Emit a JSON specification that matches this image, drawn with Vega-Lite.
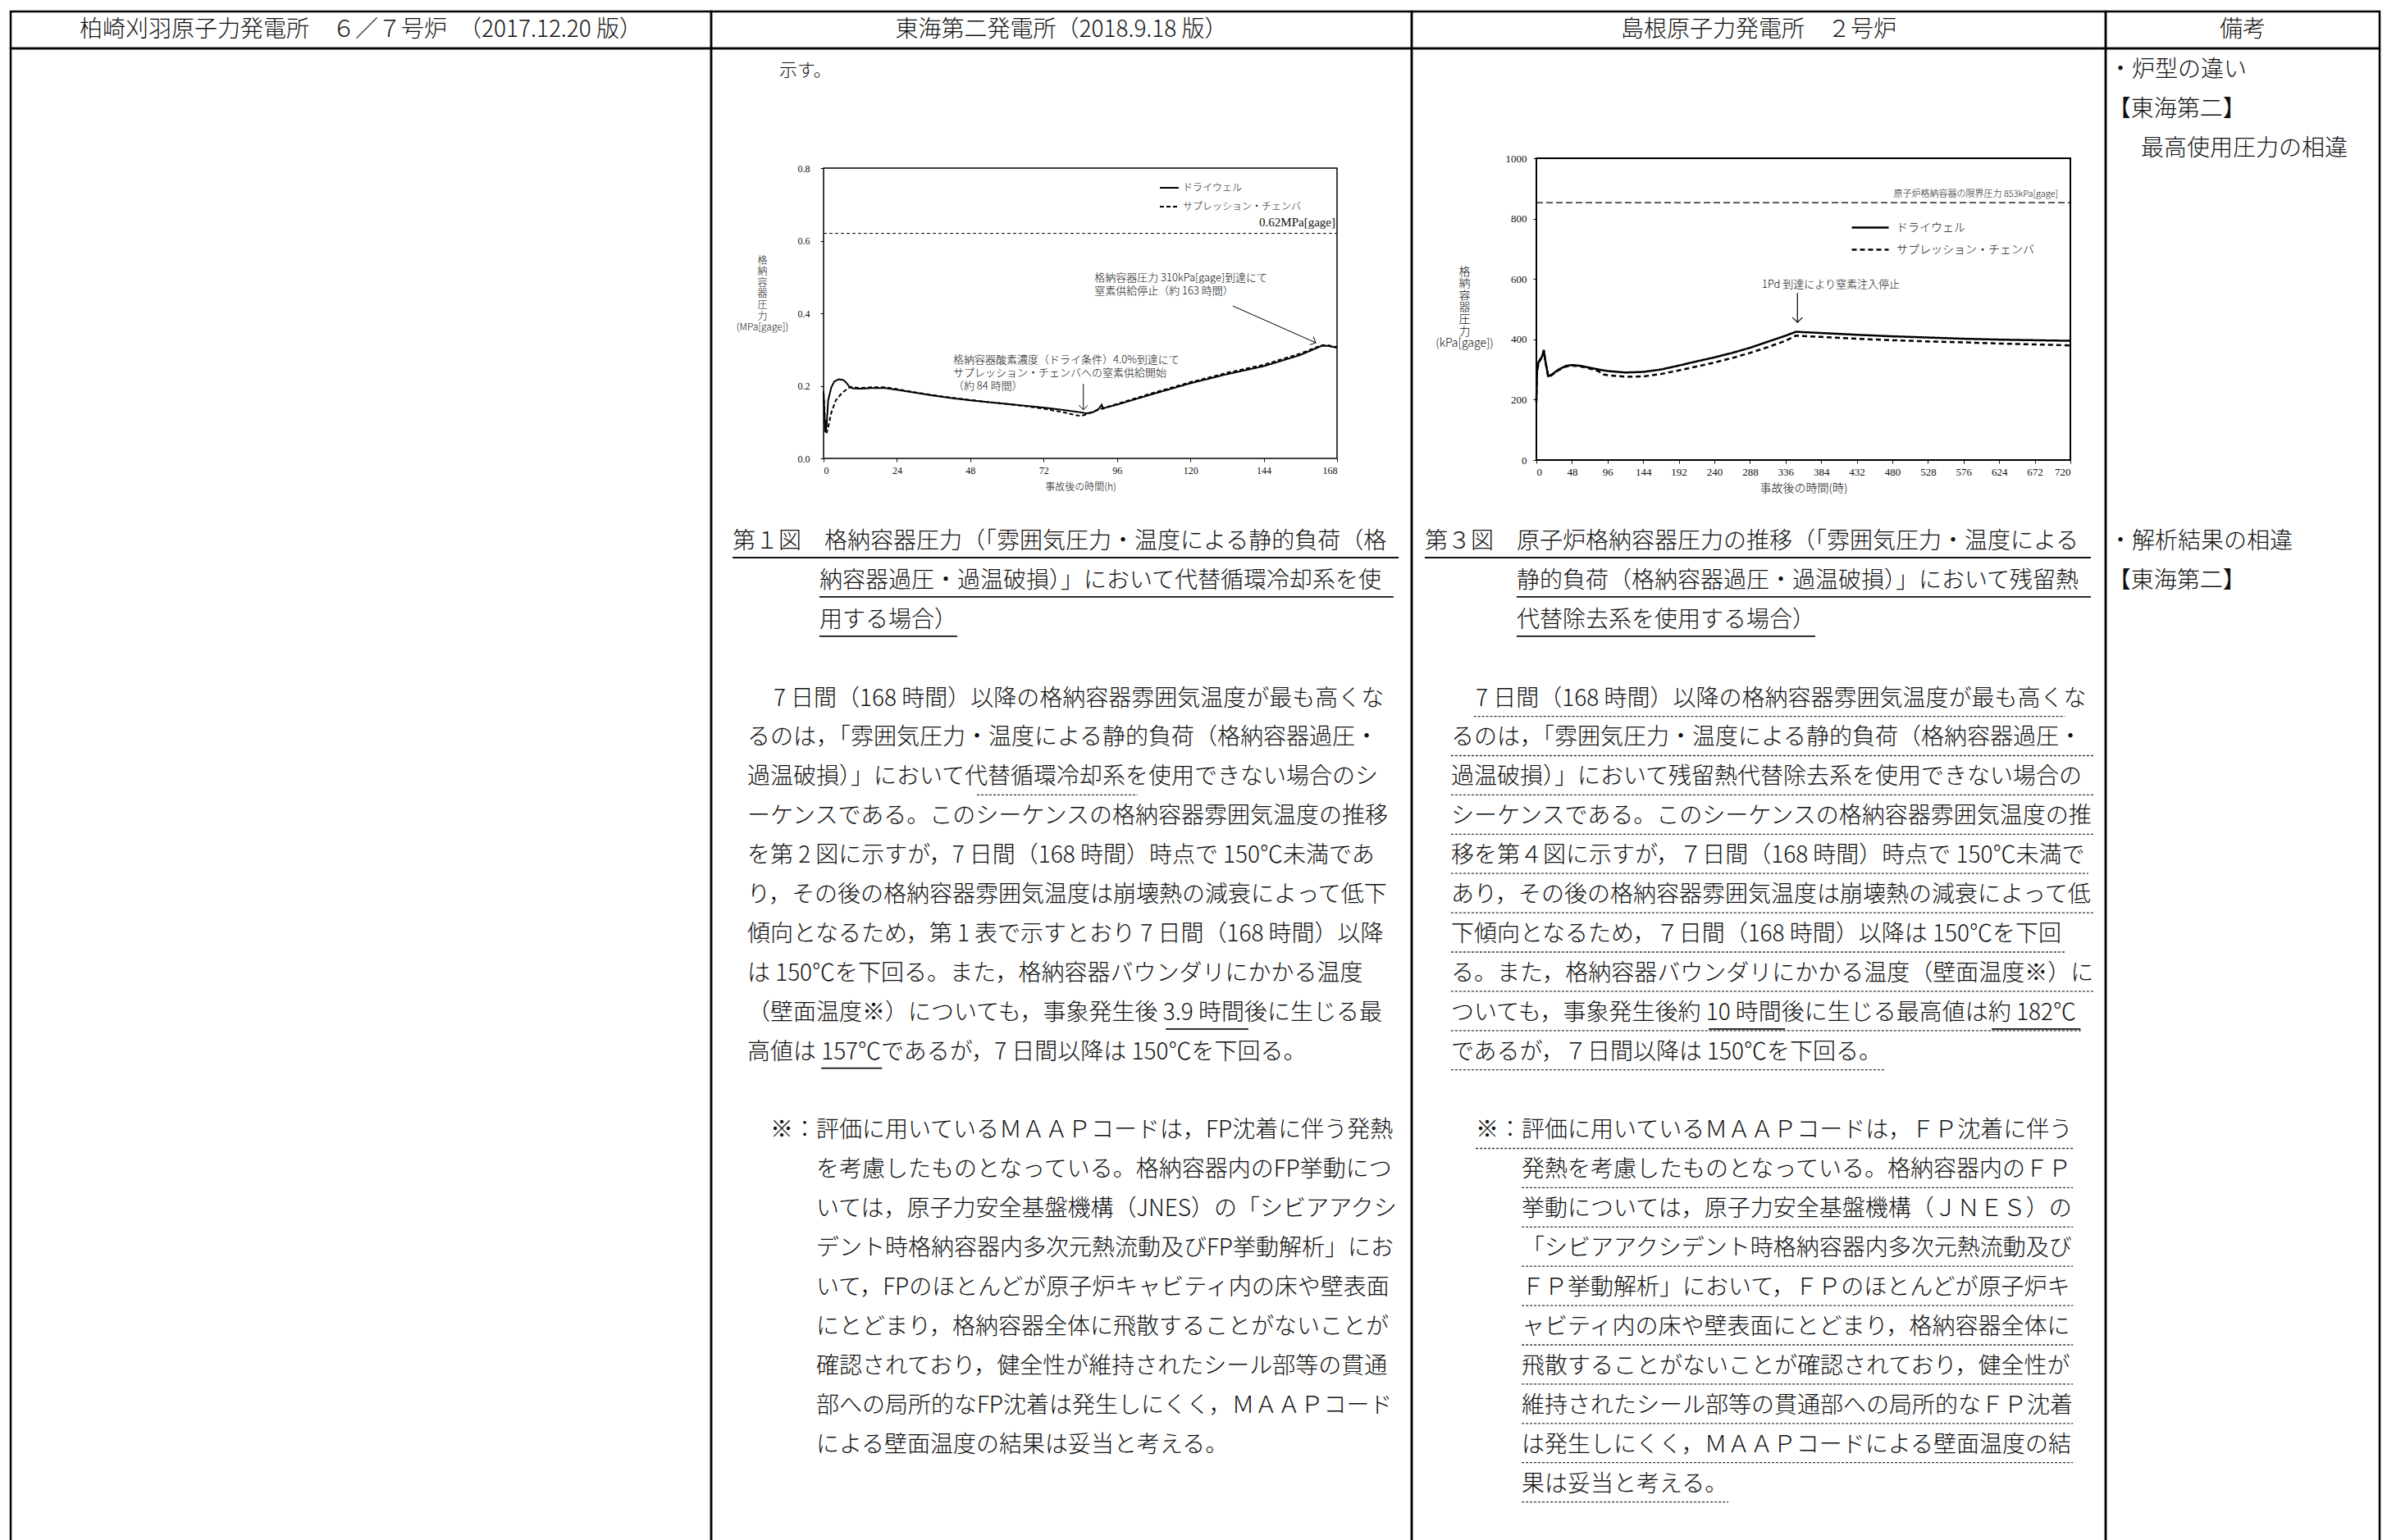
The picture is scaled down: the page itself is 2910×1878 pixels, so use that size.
{
  "$schema": "https://vega.github.io/schema/vega-lite/v6.json",
  "background": "white",
  "padding": {"left": 11, "top": 12, "right": 0, "bottom": 0},
  "config": {
    "font": "Noto Sans CJK JP",
    "view": {"stroke": null},
    "concat": {"spacing": 0},
    "axis": {"grid": false, "domain": false, "labelColor": "#111", "titleColor": "#111", "tickColor": "#111", "titleFontWeight": 300},
    "legend": {"labelColor": "#111", "labelFontWeight": 300},
    "text": {"color": "#111", "fontWeight": 300}
  },
  "columns": 4,
  "spacing": 0,
  "bounds": "flush",
  "resolve": {"scale": {"strokeDash": "independent"}, "legend": {"strokeDash": "independent"}},
  "concat": [
    {"width": 854, "height": 45, "view": {"stroke": "#000", "strokeWidth": 2.5}, "data": {"values": [{"h": "柏崎刈羽原子力発電所　６／７号炉　（2017.12.20 版）"}]}, "mark": {"type": "text", "fontSize": 28, "baseline": "middle"}, "encoding": {"text": {"field": "h"}}},
    {"width": 854, "height": 45, "view": {"stroke": "#000", "strokeWidth": 2.5}, "data": {"values": [{"h": "東海第二発電所（2018.9.18 版）"}]}, "mark": {"type": "text", "fontSize": 28, "baseline": "middle"}, "encoding": {"text": {"field": "h"}}},
    {"width": 846, "height": 45, "view": {"stroke": "#000", "strokeWidth": 2.5}, "data": {"values": [{"h": "島根原子力発電所　２号炉"}]}, "mark": {"type": "text", "fontSize": 28, "baseline": "middle"}, "encoding": {"text": {"field": "h"}}},
    {"width": 334, "height": 45, "view": {"stroke": "#000", "strokeWidth": 2.5}, "data": {"values": [{"h": "備考"}]}, "mark": {"type": "text", "fontSize": 28, "baseline": "middle"}, "encoding": {"text": {"field": "h"}}},
    {"width": 854, "height": 1840, "view": {"stroke": "#000", "strokeWidth": 2.5}, "data": {"values": [{}]}, "mark": {"type": "text", "text": ""}},
    {
      "width": 854, "height": 1840,
      "view": {"stroke": "#000", "strokeWidth": 2.5},
      "resolve": {"scale": {"x": "independent", "y": "independent"}, "axis": {"x": "independent", "y": "independent"}},
      "layer": [
        {
          "layer": [
            {
              "data": {"values": [{"line": -12, "col": 2.96, "text": "示す。"}]},
              "mark": {"type": "text", "align": "left", "baseline": "middle", "fontSize": 22},
              "encoding": {
                "x": {"field": "col", "type": "quantitative", "scale": {"domain": [0, 30.5], "nice": false, "zero": false}, "axis": null},
                "y": {"field": "line", "type": "quantitative", "scale": {"domain": [-12.568, 25.846], "reverse": true, "nice": false, "zero": false}, "axis": null},
                "text": {"field": "text"}
              }
            },
            {
              "data": {"values": [
                {"line": 0, "col": 0.93, "text": "第１図　格納容器圧力（「雰囲気圧力・温度による静的負荷（格"},
                {"line": 1, "col": 4.71, "text": "納容器過圧・過温破損）」において代替循環冷却系を使"},
                {"line": 2, "col": 4.71, "text": "用する場合）"},
                {"line": 4, "col": 2.71, "text": "7 日間（168 時間）以降の格納容器雰囲気温度が最も高くな"},
                {"line": 5, "col": 1.57, "text": "るのは，「雰囲気圧力・温度による静的負荷（格納容器過圧・"},
                {"line": 6, "col": 1.57, "text": "過温破損）」において代替循環冷却系を使用できない場合のシ"},
                {"line": 7, "col": 1.57, "text": "ーケンスである。このシーケンスの格納容器雰囲気温度の推移"},
                {"line": 8, "col": 1.57, "text": "を第 2 図に示すが，7 日間（168 時間）時点で 150℃未満であ"},
                {"line": 9, "col": 1.57, "text": "り，その後の格納容器雰囲気温度は崩壊熱の減衰によって低下"},
                {"line": 10, "col": 1.57, "text": "傾向となるため，第 1 表で示すとおり 7 日間（168 時間）以降"},
                {"line": 11, "col": 1.57, "text": "は 150℃を下回る。また，格納容器バウンダリにかかる温度"},
                {"line": 12, "col": 1.57, "text": "（壁面温度※）についても，事象発生後 3.9 時間後に生じる最"},
                {"line": 13, "col": 1.57, "text": "高値は 157℃であるが，7 日間以降は 150℃を下回る。"},
                {"line": 15, "col": 2.57, "text": "※：評価に用いているＭＡＡＰコードは，FP沈着に伴う発熱"},
                {"line": 16, "col": 4.57, "text": "を考慮したものとなっている。格納容器内のFP挙動につ"},
                {"line": 17, "col": 4.57, "text": "いては，原子力安全基盤機構（JNES）の「シビアアクシ"},
                {"line": 18, "col": 4.57, "text": "デント時格納容器内多次元熱流動及びFP挙動解析」にお"},
                {"line": 19, "col": 4.57, "text": "いて，FPのほとんどが原子炉キャビティ内の床や壁表面"},
                {"line": 20, "col": 4.57, "text": "にとどまり，格納容器全体に飛散することがないことが"},
                {"line": 21, "col": 4.57, "text": "確認されており，健全性が維持されたシール部等の貫通"},
                {"line": 22, "col": 4.57, "text": "部への局所的なFP沈着は発生しにくく，ＭＡＡＰコード"},
                {"line": 23, "col": 4.57, "text": "による壁面温度の結果は妥当と考える。"}
              ]},
              "mark": {"type": "text", "align": "left", "baseline": "middle", "fontSize": 28},
              "encoding": {
                "x": {"field": "col", "type": "quantitative", "axis": null},
                "y": {"field": "line", "type": "quantitative", "axis": null},
                "text": {"field": "text"}
              }
            },
            {
              "data": {"values": [
                {"line": 0, "from": 0.93, "to": 29.93},
                {"line": 1, "from": 4.71, "to": 29.71},
                {"line": 2, "from": 4.71, "to": 10.71},
                {"line": 12, "from": 19.79, "to": 23.39},
                {"line": 13, "from": 4.79, "to": 7.44}
              ]},
              "mark": {"type": "rule", "color": "#111", "strokeWidth": 1.8, "yOffset": 19},
              "encoding": {"x": {"field": "from", "type": "quantitative", "axis": null}, "x2": {"field": "to"}, "y": {"field": "line", "type": "quantitative", "axis": null}}
            },
            {
              "data": {"values": [{"line": 6, "from": 11.57, "to": 18.57}]},
              "mark": {"type": "rule", "color": "#333", "strokeWidth": 1.3, "strokeDash": [3, 2], "yOffset": 21},
              "encoding": {"x": {"field": "from", "type": "quantitative", "axis": null}, "x2": {"field": "to"}, "y": {"field": "line", "type": "quantitative", "axis": null}}
            }
          ]
        },
        {
          "layer": [
            {
              "data": {"values": [
                {"t": 0, "p": 0.185, "s": "ドライウェル"},
                {"t": 0.3, "p": 0.12, "s": "ドライウェル"},
                {"t": 0.6, "p": 0.072, "s": "ドライウェル"},
                {"t": 1.0, "p": 0.09, "s": "ドライウェル"},
                {"t": 1.5, "p": 0.16, "s": "ドライウェル"},
                {"t": 2.5, "p": 0.195, "s": "ドライウェル"},
                {"t": 3.5, "p": 0.212, "s": "ドライウェル"},
                {"t": 5, "p": 0.218, "s": "ドライウェル"},
                {"t": 6.5, "p": 0.216, "s": "ドライウェル"},
                {"t": 7.5, "p": 0.208, "s": "ドライウェル"},
                {"t": 8.5, "p": 0.197, "s": "ドライウェル"},
                {"t": 9.5, "p": 0.193, "s": "ドライウェル"},
                {"t": 12, "p": 0.192, "s": "ドライウェル"},
                {"t": 16, "p": 0.194, "s": "ドライウェル"},
                {"t": 20, "p": 0.194, "s": "ドライウェル"},
                {"t": 24, "p": 0.189, "s": "ドライウェル"},
                {"t": 30, "p": 0.181, "s": "ドライウェル"},
                {"t": 36, "p": 0.173, "s": "ドライウェル"},
                {"t": 42, "p": 0.166, "s": "ドライウェル"},
                {"t": 48, "p": 0.16, "s": "ドライウェル"},
                {"t": 54, "p": 0.155, "s": "ドライウェル"},
                {"t": 60, "p": 0.15, "s": "ドライウェル"},
                {"t": 66, "p": 0.145, "s": "ドライウェル"},
                {"t": 72, "p": 0.14, "s": "ドライウェル"},
                {"t": 78, "p": 0.134, "s": "ドライウェル"},
                {"t": 84, "p": 0.127, "s": "ドライウェル"},
                {"t": 86, "p": 0.124, "s": "ドライウェル"},
                {"t": 88, "p": 0.127, "s": "ドライウェル"},
                {"t": 90, "p": 0.136, "s": "ドライウェル"},
                {"t": 91, "p": 0.148, "s": "ドライウェル"},
                {"t": 91.5, "p": 0.137, "s": "ドライウェル"},
                {"t": 92, "p": 0.139, "s": "ドライウェル"},
                {"t": 96, "p": 0.148, "s": "ドライウェル"},
                {"t": 108, "p": 0.178, "s": "ドライウェル"},
                {"t": 120, "p": 0.207, "s": "ドライウェル"},
                {"t": 132, "p": 0.232, "s": "ドライウェル"},
                {"t": 144, "p": 0.254, "s": "ドライウェル"},
                {"t": 156, "p": 0.285, "s": "ドライウェル"},
                {"t": 163, "p": 0.31, "s": "ドライウェル"},
                {"t": 165, "p": 0.31, "s": "ドライウェル"},
                {"t": 168, "p": 0.305, "s": "ドライウェル"},
                {"t": 0, "p": 0.18, "s": "サプレッション・チェンバ"},
                {"t": 0.5, "p": 0.1, "s": "サプレッション・チェンバ"},
                {"t": 1, "p": 0.07, "s": "サプレッション・チェンバ"},
                {"t": 1.5, "p": 0.085, "s": "サプレッション・チェンバ"},
                {"t": 2.5, "p": 0.125, "s": "サプレッション・チェンバ"},
                {"t": 4, "p": 0.16, "s": "サプレッション・チェンバ"},
                {"t": 6, "p": 0.18, "s": "サプレッション・チェンバ"},
                {"t": 8, "p": 0.193, "s": "サプレッション・チェンバ"},
                {"t": 9, "p": 0.197, "s": "サプレッション・チェンバ"},
                {"t": 12, "p": 0.194, "s": "サプレッション・チェンバ"},
                {"t": 16, "p": 0.196, "s": "サプレッション・チェンバ"},
                {"t": 20, "p": 0.196, "s": "サプレッション・チェンバ"},
                {"t": 24, "p": 0.191, "s": "サプレッション・チェンバ"},
                {"t": 30, "p": 0.182, "s": "サプレッション・チェンバ"},
                {"t": 36, "p": 0.174, "s": "サプレッション・チェンバ"},
                {"t": 42, "p": 0.167, "s": "サプレッション・チェンバ"},
                {"t": 48, "p": 0.161, "s": "サプレッション・チェンバ"},
                {"t": 54, "p": 0.155, "s": "サプレッション・チェンバ"},
                {"t": 60, "p": 0.15, "s": "サプレッション・チェンバ"},
                {"t": 66, "p": 0.144, "s": "サプレッション・チェンバ"},
                {"t": 72, "p": 0.137, "s": "サプレッション・チェンバ"},
                {"t": 78, "p": 0.128, "s": "サプレッション・チェンバ"},
                {"t": 82, "p": 0.12, "s": "サプレッション・チェンバ"},
                {"t": 84, "p": 0.117, "s": "サプレッション・チェンバ"},
                {"t": 86, "p": 0.121, "s": "サプレッション・チェンバ"},
                {"t": 88, "p": 0.128, "s": "サプレッション・チェンバ"},
                {"t": 92, "p": 0.14, "s": "サプレッション・チェンバ"},
                {"t": 96, "p": 0.15, "s": "サプレッション・チェンバ"},
                {"t": 108, "p": 0.181, "s": "サプレッション・チェンバ"},
                {"t": 120, "p": 0.21, "s": "サプレッション・チェンバ"},
                {"t": 132, "p": 0.236, "s": "サプレッション・チェンバ"},
                {"t": 144, "p": 0.258, "s": "サプレッション・チェンバ"},
                {"t": 156, "p": 0.289, "s": "サプレッション・チェンバ"},
                {"t": 163, "p": 0.312, "s": "サプレッション・チェンバ"},
                {"t": 165, "p": 0.312, "s": "サプレッション・チェンバ"},
                {"t": 168, "p": 0.307, "s": "サプレッション・チェンバ"}
              ]},
              "mark": {"type": "line", "color": "#000", "strokeWidth": 2},
              "encoding": {
                "x": {"field": "t", "type": "quantitative", "scale": {"domain": [0, 168], "range": [137, 763], "nice": false, "zero": false},
                  "axis": {"orient": "bottom", "offset": -1340, "values": [0, 24, 48, 72, 96, 120, 144, 168], "title": "事故後の時間(h)", "labelFont": "Liberation Serif", "labelFontSize": 12, "tickSize": 4, "labelPadding": 5, "titleFontSize": 12, "titlePadding": 9}},
                "y": {"field": "p", "type": "quantitative", "scale": {"domain": [0, 0.8], "range": [500, 146], "nice": false, "zero": false},
                  "axis": {"orient": "left", "offset": -137, "values": [0, 0.2, 0.4, 0.6, 0.8], "format": ".1f", "labelFont": "Liberation Serif", "labelFontSize": 12, "tickSize": 4, "labelPadding": 13,
                    "title": ["格", "納", "容", "器", "圧", "力", "", "(MPa[gage])"], "titleAngle": 0, "titleAlign": "center", "titleBaseline": "top", "titleX": -75, "titleY": 253, "titleFontSize": 12, "titleLineHeight": 13.6}},
                "strokeDash": {"field": "s", "type": "nominal", "scale": {"domain": ["ドライウェル", "サプレッション・チェンバ"], "range": [[1, 0], [5, 3]]},
                  "legend": {"orient": "none", "legendX": 546, "legendY": 163, "title": null, "symbolType": "stroke", "symbolSize": 529, "symbolStrokeWidth": 2, "symbolStrokeColor": "#000", "labelFontSize": 12, "labelOffset": 4, "labelLimit": 400, "clipHeight": 14, "rowPadding": 9, "padding": 0}}
              }
            },
            {
              "data": {"values": [{"t": 0, "t2": 168, "p": 0, "p2": 0.8}]},
              "mark": {"type": "rect", "fill": "transparent", "stroke": "#000", "strokeWidth": 1.5},
              "encoding": {"x": {"field": "t", "type": "quantitative"}, "x2": {"field": "t2"}, "y": {"field": "p", "type": "quantitative"}, "y2": {"field": "p2"}}
            },
            {
              "data": {"values": [{"t": 0, "t2": 168, "p": 0.62}]},
              "mark": {"type": "rule", "color": "#000", "strokeWidth": 1, "strokeDash": [4, 3]},
              "encoding": {"x": {"field": "t", "type": "quantitative"}, "x2": {"field": "t2"}, "y": {"field": "p", "type": "quantitative"}}
            },
            {
              "data": {"values": [{"t": 168, "p": 0.62, "label": "0.62MPa[gage]"}]},
              "mark": {"type": "text", "align": "right", "baseline": "bottom", "dx": -2, "dy": -6, "font": "Liberation Serif", "fontSize": 15, "fontWeight": "normal"},
              "encoding": {"x": {"field": "t", "type": "quantitative"}, "y": {"field": "p", "type": "quantitative"}, "text": {"field": "label"}}
            },
            {
              "data": {"values": [
                {"t": 88.6, "p": 0.511, "note": "格納容器圧力 310kPa[gage]到達にて\n窒素供給停止（約 163 時間）"},
                {"t": 42.4, "p": 0.285, "note": "格納容器酸素濃度（ドライ条件）4.0%到達にて\nサプレッション・チェンバへの窒素供給開始\n（約 84 時間）"}
              ]},
              "mark": {"type": "text", "align": "left", "baseline": "top", "fontSize": 13, "lineBreak": "\n", "lineHeight": 16},
              "encoding": {"x": {"field": "t", "type": "quantitative"}, "y": {"field": "p", "type": "quantitative"}, "text": {"field": "note"}}
            },
            {
              "data": {"values": [
                {"t": 85, "p": 0.205, "t2": 85, "p2": 0.134},
                {"t": 133.9, "p": 0.42, "t2": 161, "p2": 0.319}
              ]},
              "mark": {"type": "rule", "color": "#000", "strokeWidth": 1},
              "encoding": {"x": {"field": "t", "type": "quantitative"}, "y": {"field": "p", "type": "quantitative"}, "x2": {"field": "t2"}, "y2": {"field": "p2"}}
            },
            {
              "data": {"values": [{"t": 85, "p": 0.134}]},
              "mark": {"type": "point", "shape": "M-1,-1L0,0L1,-1", "size": 120, "filled": false, "color": "#000", "strokeWidth": 1, "opacity": 1},
              "encoding": {"x": {"field": "t", "type": "quantitative"}, "y": {"field": "p", "type": "quantitative"}}
            },
            {
              "data": {"values": [{"t": 161, "p": 0.319}]},
              "mark": {"type": "point", "shape": "M-1,-1L0,0L1,-1", "size": 120, "angle": 294, "filled": false, "color": "#000", "strokeWidth": 1, "opacity": 1},
              "encoding": {"x": {"field": "t", "type": "quantitative"}, "y": {"field": "p", "type": "quantitative"}}
            }
          ]
        }
      ]
    },
    {
      "width": 846, "height": 1840,
      "view": {"stroke": "#000", "strokeWidth": 2.5},
      "resolve": {"scale": {"x": "independent", "y": "independent"}, "axis": {"x": "independent", "y": "independent"}},
      "layer": [
        {
          "layer": [
            {
              "data": {"values": [
                {"line": 0, "col": 0.57, "text": "第３図　原子炉格納容器圧力の推移（「雰囲気圧力・温度による"},
                {"line": 1, "col": 4.57, "text": "静的負荷（格納容器過圧・過温破損）」において残留熱"},
                {"line": 2, "col": 4.57, "text": "代替除去系を使用する場合）"},
                {"line": 4, "col": 2.79, "text": "7 日間（168 時間）以降の格納容器雰囲気温度が最も高くな"},
                {"line": 5, "col": 1.71, "text": "るのは，「雰囲気圧力・温度による静的負荷（格納容器過圧・"},
                {"line": 6, "col": 1.71, "text": "過温破損）」において残留熱代替除去系を使用できない場合の"},
                {"line": 7, "col": 1.71, "text": "シーケンスである。このシーケンスの格納容器雰囲気温度の推"},
                {"line": 8, "col": 1.71, "text": "移を第４図に示すが，７日間（168 時間）時点で 150℃未満で"},
                {"line": 9, "col": 1.71, "text": "あり，その後の格納容器雰囲気温度は崩壊熱の減衰によって低"},
                {"line": 10, "col": 1.71, "text": "下傾向となるため，７日間（168 時間）以降は 150℃を下回"},
                {"line": 11, "col": 1.71, "text": "る。また，格納容器バウンダリにかかる温度（壁面温度※）に"},
                {"line": 12, "col": 1.71, "text": "ついても，事象発生後約 10 時間後に生じる最高値は約 182℃"},
                {"line": 13, "col": 1.71, "text": "であるが，７日間以降は 150℃を下回る。"},
                {"line": 15, "col": 2.79, "text": "※：評価に用いているＭＡＡＰコードは，ＦＰ沈着に伴う"},
                {"line": 16, "col": 4.79, "text": "発熱を考慮したものとなっている。格納容器内のＦＰ"},
                {"line": 17, "col": 4.79, "text": "挙動については，原子力安全基盤機構（ＪＮＥＳ）の"},
                {"line": 18, "col": 4.79, "text": "「シビアアクシデント時格納容器内多次元熱流動及び"},
                {"line": 19, "col": 4.79, "text": "ＦＰ挙動解析」において，ＦＰのほとんどが原子炉キ"},
                {"line": 20, "col": 4.79, "text": "ャビティ内の床や壁表面にとどまり，格納容器全体に"},
                {"line": 21, "col": 4.79, "text": "飛散することがないことが確認されており，健全性が"},
                {"line": 22, "col": 4.79, "text": "維持されたシール部等の貫通部への局所的なＦＰ沈着"},
                {"line": 23, "col": 4.79, "text": "は発生しにくく，ＭＡＡＰコードによる壁面温度の結"},
                {"line": 24, "col": 4.79, "text": "果は妥当と考える。"}
              ]},
              "mark": {"type": "text", "align": "left", "baseline": "middle", "fontSize": 28},
              "encoding": {
                "x": {"field": "col", "type": "quantitative", "scale": {"domain": [0, 30.214], "nice": false, "zero": false}, "axis": null},
                "y": {"field": "line", "type": "quantitative", "scale": {"domain": [-12.568, 25.846], "reverse": true, "nice": false, "zero": false}, "axis": null},
                "text": {"field": "text"}
              }
            },
            {
              "data": {"values": [
                {"line": 0, "from": 0.57, "to": 29.57},
                {"line": 1, "from": 4.57, "to": 29.57},
                {"line": 2, "from": 4.57, "to": 17.57},
                {"line": 12, "from": 12.93, "to": 16.25},
                {"line": 12, "from": 25.25, "to": 29.12}
              ]},
              "mark": {"type": "rule", "color": "#111", "strokeWidth": 1.8, "yOffset": 19},
              "encoding": {"x": {"field": "from", "type": "quantitative", "axis": null}, "x2": {"field": "to"}, "y": {"field": "line", "type": "quantitative", "axis": null}}
            },
            {
              "data": {"values": [
                {"line": 4, "from": 2.7, "to": 28.44},
                {"line": 5, "from": 1.71, "to": 29.71},
                {"line": 6, "from": 1.71, "to": 29.71},
                {"line": 7, "from": 1.71, "to": 29.71},
                {"line": 8, "from": 1.71, "to": 29.46},
                {"line": 9, "from": 1.71, "to": 29.71},
                {"line": 10, "from": 1.71, "to": 28.46},
                {"line": 11, "from": 1.71, "to": 29.71},
                {"line": 12, "from": 1.71, "to": 29.13},
                {"line": 13, "from": 1.71, "to": 20.58},
                {"line": 15, "from": 2.79, "to": 28.79},
                {"line": 16, "from": 4.79, "to": 28.79},
                {"line": 17, "from": 4.79, "to": 28.79},
                {"line": 18, "from": 4.79, "to": 28.79},
                {"line": 19, "from": 4.79, "to": 28.79},
                {"line": 20, "from": 4.79, "to": 28.79},
                {"line": 21, "from": 4.79, "to": 28.79},
                {"line": 22, "from": 4.79, "to": 28.79},
                {"line": 23, "from": 4.79, "to": 28.79},
                {"line": 24, "from": 4.79, "to": 13.79}
              ]},
              "mark": {"type": "rule", "color": "#333", "strokeWidth": 1.3, "strokeDash": [3, 2], "yOffset": 21},
              "encoding": {"x": {"field": "from", "type": "quantitative", "axis": null}, "x2": {"field": "to"}, "y": {"field": "line", "type": "quantitative", "axis": null}}
            }
          ]
        },
        {
          "layer": [
            {
              "data": {"values": [
                {"t": 0, "p": 200, "s": "ドライウェル"},
                {"t": 1, "p": 300, "s": "ドライウェル"},
                {"t": 3, "p": 325, "s": "ドライウェル"},
                {"t": 8, "p": 345, "s": "ドライウェル"},
                {"t": 10, "p": 365, "s": "ドライウェル"},
                {"t": 12, "p": 330, "s": "ドライウェル"},
                {"t": 16, "p": 278, "s": "ドライウェル"},
                {"t": 20, "p": 282, "s": "ドライウェル"},
                {"t": 30, "p": 300, "s": "ドライウェル"},
                {"t": 40, "p": 312, "s": "ドライウェル"},
                {"t": 48, "p": 315, "s": "ドライウェル"},
                {"t": 60, "p": 312, "s": "ドライウェル"},
                {"t": 72, "p": 306, "s": "ドライウェル"},
                {"t": 84, "p": 300, "s": "ドライウェル"},
                {"t": 96, "p": 295, "s": "ドライウェル"},
                {"t": 120, "p": 290, "s": "ドライウェル"},
                {"t": 144, "p": 292, "s": "ドライウェル"},
                {"t": 168, "p": 300, "s": "ドライウェル"},
                {"t": 192, "p": 313, "s": "ドライウェル"},
                {"t": 216, "p": 327, "s": "ドライウェル"},
                {"t": 240, "p": 340, "s": "ドライウェル"},
                {"t": 264, "p": 355, "s": "ドライウェル"},
                {"t": 288, "p": 372, "s": "ドライウェル"},
                {"t": 312, "p": 392, "s": "ドライウェル"},
                {"t": 336, "p": 412, "s": "ドライウェル"},
                {"t": 350, "p": 425, "s": "ドライウェル"},
                {"t": 384, "p": 421, "s": "ドライウェル"},
                {"t": 432, "p": 415, "s": "ドライウェル"},
                {"t": 480, "p": 410, "s": "ドライウェル"},
                {"t": 528, "p": 406, "s": "ドライウェル"},
                {"t": 576, "p": 402, "s": "ドライウェル"},
                {"t": 624, "p": 399, "s": "ドライウェル"},
                {"t": 672, "p": 397, "s": "ドライウェル"},
                {"t": 720, "p": 395, "s": "ドライウェル"},
                {"t": 0, "p": 190, "s": "サプレッション・チェンバ"},
                {"t": 1, "p": 295, "s": "サプレッション・チェンバ"},
                {"t": 3, "p": 322, "s": "サプレッション・チェンバ"},
                {"t": 8, "p": 343, "s": "サプレッション・チェンバ"},
                {"t": 10, "p": 362, "s": "サプレッション・チェンバ"},
                {"t": 12, "p": 328, "s": "サプレッション・チェンバ"},
                {"t": 16, "p": 275, "s": "サプレッション・チェンバ"},
                {"t": 20, "p": 280, "s": "サプレッション・チェンバ"},
                {"t": 30, "p": 298, "s": "サプレッション・チェンバ"},
                {"t": 40, "p": 310, "s": "サプレッション・チェンバ"},
                {"t": 48, "p": 313, "s": "サプレッション・チェンバ"},
                {"t": 60, "p": 310, "s": "サプレッション・チェンバ"},
                {"t": 72, "p": 303, "s": "サプレッション・チェンバ"},
                {"t": 84, "p": 294, "s": "サプレッション・チェンバ"},
                {"t": 90, "p": 284, "s": "サプレッション・チェンバ"},
                {"t": 96, "p": 281, "s": "サプレッション・チェンバ"},
                {"t": 120, "p": 276, "s": "サプレッション・チェンバ"},
                {"t": 144, "p": 277, "s": "サプレッション・チェンバ"},
                {"t": 168, "p": 285, "s": "サプレッション・チェンバ"},
                {"t": 192, "p": 297, "s": "サプレッション・チェンバ"},
                {"t": 216, "p": 310, "s": "サプレッション・チェンバ"},
                {"t": 240, "p": 323, "s": "サプレッション・チェンバ"},
                {"t": 264, "p": 338, "s": "サプレッション・チェンバ"},
                {"t": 288, "p": 355, "s": "サプレッション・チェンバ"},
                {"t": 312, "p": 374, "s": "サプレッション・チェンバ"},
                {"t": 336, "p": 395, "s": "サプレッション・チェンバ"},
                {"t": 350, "p": 412, "s": "サプレッション・チェンバ"},
                {"t": 384, "p": 408, "s": "サプレッション・チェンバ"},
                {"t": 432, "p": 402, "s": "サプレッション・チェンバ"},
                {"t": 480, "p": 397, "s": "サプレッション・チェンバ"},
                {"t": 528, "p": 393, "s": "サプレッション・チェンバ"},
                {"t": 576, "p": 390, "s": "サプレッション・チェンバ"},
                {"t": 624, "p": 386, "s": "サプレッション・チェンバ"},
                {"t": 672, "p": 383, "s": "サプレッション・チェンバ"},
                {"t": 720, "p": 380, "s": "サプレッション・チェンバ"}
              ]},
              "mark": {"type": "line", "color": "#000", "strokeWidth": 2.5},
              "encoding": {
                "x": {"field": "t", "type": "quantitative", "scale": {"domain": [0, 720], "range": [152, 803], "nice": false, "zero": false},
                  "axis": {"orient": "bottom", "offset": -1338, "values": [0, 48, 96, 144, 192, 240, 288, 336, 384, 432, 480, 528, 576, 624, 672, 720], "title": "事故後の時間(時)", "labelFont": "Liberation Serif", "labelFontSize": 13, "tickSize": 4, "labelPadding": 4, "titleFontSize": 14, "titlePadding": 6}},
                "y": {"field": "p", "type": "quantitative", "scale": {"domain": [0, 1000], "range": [502, 134], "nice": false, "zero": false},
                  "axis": {"orient": "left", "offset": -152, "values": [0, 200, 400, 600, 800, 1000], "format": "d", "labelFont": "Liberation Serif", "labelFontSize": 13, "tickSize": 4, "labelPadding": 8,
                    "title": ["格", "納", "容", "器", "圧", "力", "", "(kPa[gage])"], "titleAngle": 0, "titleAlign": "center", "titleBaseline": "top", "titleX": -88, "titleY": 265, "titleFontSize": 14, "titleLineHeight": 14.6}},
                "strokeDash": {"field": "s", "type": "nominal", "scale": {"domain": ["ドライウェル", "サプレッション・チェンバ"], "range": [[1, 0], [6, 4]]},
                  "legend": {"orient": "none", "legendX": 535, "legendY": 211, "title": null, "symbolType": "stroke", "symbolSize": 2025, "symbolStrokeWidth": 2.5, "symbolStrokeColor": "#000", "labelFontSize": 14, "labelOffset": 8, "labelLimit": 400, "clipHeight": 15, "rowPadding": 12, "padding": 0}}
              }
            },
            {
              "data": {"values": [{"t": 0, "t2": 720, "p": 0, "p2": 1000}]},
              "mark": {"type": "rect", "fill": "transparent", "stroke": "#000", "strokeWidth": 2},
              "encoding": {"x": {"field": "t", "type": "quantitative"}, "x2": {"field": "t2"}, "y": {"field": "p", "type": "quantitative"}, "y2": {"field": "p2"}}
            },
            {
              "data": {"values": [{"t": 0, "t2": 720, "p": 853}]},
              "mark": {"type": "rule", "color": "#000", "strokeWidth": 1.2, "strokeDash": [8, 4]},
              "encoding": {"x": {"field": "t", "type": "quantitative"}, "x2": {"field": "t2"}, "y": {"field": "p", "type": "quantitative"}}
            },
            {
              "data": {"values": [{"t": 720, "p": 853, "label": "原子炉格納容器の限界圧力 853kPa[gage]"}]},
              "mark": {"type": "text", "align": "right", "baseline": "bottom", "dx": -15, "dy": -5, "fontSize": 11},
              "encoding": {"x": {"field": "t", "type": "quantitative"}, "y": {"field": "p", "type": "quantitative"}, "text": {"field": "label"}}
            },
            {
              "data": {"values": [{"t": 397, "p": 581, "note": "1Pd 到達により窒素注入停止"}]},
              "mark": {"type": "text", "align": "center", "baseline": "middle", "fontSize": 13},
              "encoding": {"x": {"field": "t", "type": "quantitative"}, "y": {"field": "p", "type": "quantitative"}, "text": {"field": "note"}}
            },
            {
              "data": {"values": [{"t": 352, "p": 554, "t2": 352, "p2": 456}]},
              "mark": {"type": "rule", "color": "#000", "strokeWidth": 1.2},
              "encoding": {"x": {"field": "t", "type": "quantitative"}, "y": {"field": "p", "type": "quantitative"}, "x2": {"field": "t2"}, "y2": {"field": "p2"}}
            },
            {
              "data": {"values": [{"t": 352, "p": 456}]},
              "mark": {"type": "point", "shape": "M-1,-1L0,0L1,-1", "size": 150, "filled": false, "color": "#000", "strokeWidth": 1.2, "opacity": 1},
              "encoding": {"x": {"field": "t", "type": "quantitative"}, "y": {"field": "p", "type": "quantitative"}}
            }
          ]
        }
      ]
    },
    {
      "width": 334, "height": 1840,
      "view": {"stroke": "#000", "strokeWidth": 2.5},
      "data": {"values": [
        {"line": -12, "col": 0.14, "text": "・炉型の違い"},
        {"line": -11, "col": 0.1, "text": "【東海第二】"},
        {"line": -10, "col": 1.54, "text": "最高使用圧力の相違"},
        {"line": 0, "col": 0.14, "text": "・解析結果の相違"},
        {"line": 1, "col": 0.1, "text": "【東海第二】"}
      ]},
      "mark": {"type": "text", "align": "left", "baseline": "middle", "fontSize": 28},
      "encoding": {
        "x": {"field": "col", "type": "quantitative", "scale": {"domain": [0, 11.93], "nice": false, "zero": false}, "axis": null},
        "y": {"field": "line", "type": "quantitative", "scale": {"domain": [-12.568, 25.846], "reverse": true, "nice": false, "zero": false}, "axis": null},
        "text": {"field": "text"}
      }
    }
  ]
}
